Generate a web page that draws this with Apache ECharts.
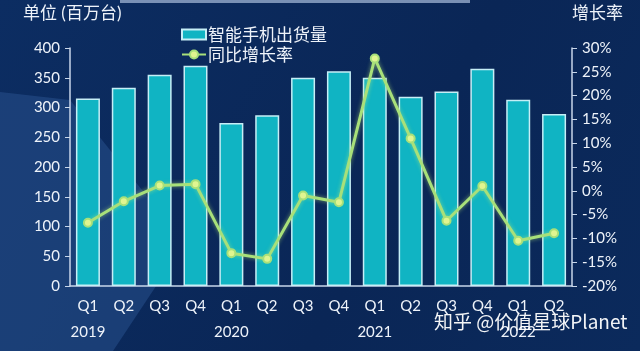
<!DOCTYPE html>
<html><head><meta charset="utf-8">
<script src="https://cdn.jsdelivr.net/npm/echarts@6/dist/echarts.min.js"></script>
<style>html,body{margin:0;padding:0;background:#0a2858;}#c{width:640px;height:351px;}</style>
</head><body><div id="c"></div>
<script>
const quarters = ['Q1','Q2','Q3','Q4','Q1','Q2','Q3','Q4','Q1','Q2','Q3','Q4','Q1','Q2'];
const years    = ['2019','','','','2020','','','','2021','','','','2022',''];
const shipments = [315, 333, 355, 370, 274, 287, 350, 361, 350, 318, 327, 365, 313, 289];
const growth    = [-6.7, -2.2, 1.1, 1.4, -13.1, -14.3, -1.0, -2.4, 27.8, 11.0, -6.3, 1.0, -10.5, -8.9];
const leftTitle = '单位 (百万台)';
const rightTitle = '增长率';
const seriesNames = ['智能手机出货量', '同比增长率'];
const watermark = '知乎 @价值星球Planet';

const categories = quarters.map((q, i) => q + '\n' + years[i]);
const font = 'Lato, "Noto Sans CJK SC", sans-serif';
const chart = echarts.init(document.getElementById('c'));
chart.setOption({
  backgroundColor: {
    type: 'linear', x: 0, y: 0, x2: 1, y2: 1,
    colorStops: [{offset: 0, color: '#0c2d62'}, {offset: 0.6, color: '#0a2656'}, {offset: 1, color: '#0b2a5c'}]
  },
  textStyle: {fontFamily: font},
  graphic: [
    {type: 'polygon', z: -10, shape: {points: [[0, 92], [70, 100], [150, 200], [168, 268], [113, 351], [0, 351]]},
     style: {fill: 'rgba(40,80,140,0.55)'}},
    {type: 'rect', z: -10, shape: {x: 120, y: 0, width: 350, height: 3}, style: {fill: 'rgba(170,190,220,0.7)'}},
    {type: 'text', left: 23, top: 5, style: {text: leftTitle, fill: '#eef3fa', fontSize: 17, fontFamily: font}},
    {type: 'text', left: 572, top: 5, style: {text: rightTitle, fill: '#eef3fa', fontSize: 17, fontFamily: font}},
    {type: 'text', left: 434, top: 312, z: 100, style: {text: watermark, fill: 'rgba(255,255,255,0.95)', fontSize: 19, fontFamily: '"Noto Sans CJK SC", sans-serif'}}
  ],
  legend: {
    orient: 'vertical', left: 176, top: 21, itemWidth: 24, itemHeight: 10, itemGap: 3,
    textStyle: {color: '#eef3fa', fontSize: 17, fontFamily: '"Noto Sans CJK SC", sans-serif', padding: [0, 0, 0, -3]},
    data: [{name: seriesNames[0], icon: 'rect'}, {name: seriesNames[1]}]
  },
  grid: {left: 70, right: 68, top: 48, bottom: 65},
  xAxis: {
    type: 'category', data: categories,
    axisLine: {lineStyle: {color: '#c8d6ea', width: 1.5}},
    axisTick: {show: false},
    axisLabel: {color: '#eef3fa', fontSize: 15, lineHeight: 26, margin: 7, interval: 0}
  },
  yAxis: [
    {type: 'value', min: 0, max: 400, interval: 50,
     axisLine: {show: true, lineStyle: {color: '#c8d6ea', width: 1.5}},
     axisTick: {show: true, length: 5, lineStyle: {color: '#c8d6ea'}},
     splitLine: {show: false},
     axisLabel: {color: '#eef3fa', fontSize: 15, margin: 10}},
    {type: 'value', min: -20, max: 30, interval: 5,
     axisLine: {show: true, lineStyle: {color: '#c8d6ea', width: 1.5}},
     axisTick: {show: true, length: 5, lineStyle: {color: '#c8d6ea'}},
     splitLine: {show: false},
     axisLabel: {color: '#eef3fa', fontSize: 15, margin: 10, formatter: '{value}%'}}
  ],
  series: [
    {name: seriesNames[0], type: 'bar', data: shipments, barWidth: 24,
     itemStyle: {color: '#10b4c3', borderColor: '#c6eef6', borderWidth: 1.5}},
    {name: seriesNames[1], type: 'line', yAxisIndex: 1, data: growth,
     symbol: 'circle', symbolSize: 8,
     lineStyle: {color: '#a8e07a', width: 3, shadowColor: 'rgba(190,240,120,0.6)', shadowBlur: 4},
     itemStyle: {color: '#e0f590', borderColor: '#a8e07a', borderWidth: 2}}
  ]
});
</script></body></html>
